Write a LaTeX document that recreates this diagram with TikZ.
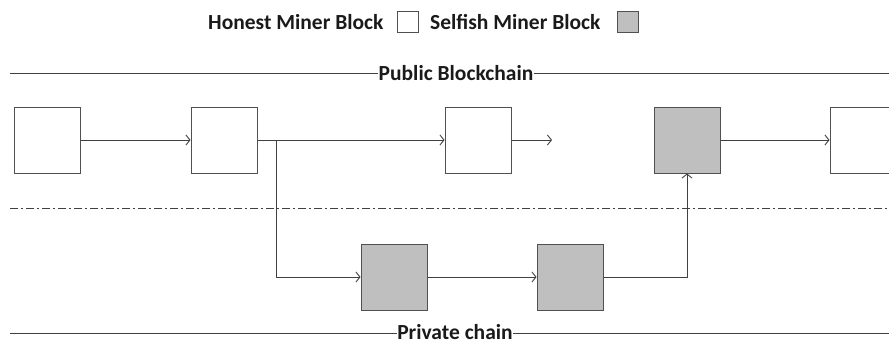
\documentclass[tikz,border=0pt]{standalone}
\usepackage{fontspec}
\setmainfont{Carlito}
\usepackage{tikz}
\usetikzlibrary{arrows.meta,positioning}
\definecolor{linec}{HTML}{404040}
\definecolor{boxline}{HTML}{505050}
\definecolor{selfish}{HTML}{BFBFBF}
\definecolor{txt}{HTML}{1A1A1A}
\tikzset{
  honest/.style={draw=boxline, line width=1pt, fill=white, minimum size=66pt, inner sep=0pt},
  selfbox/.style={honest, fill=selfish},
  keybox/.style={draw=boxline, line width=0.9pt, minimum size=21pt, inner sep=0pt},
  lbl/.style={text=txt, font=\fontsize{21.5}{24}\selectfont\bfseries, inner sep=0pt},
  arr/.style={-{Straight Barb[length=4pt,width=10pt]}, line width=0.9pt, draw=linec},
  rule/.style={line width=0.9pt, draw=linec}
}
\begin{document}
\begin{tikzpicture}[x=1pt, y=-1pt]
  \useasboundingbox (0,0) rectangle (889,345);

  % legend
  \node[lbl, anchor=west] (honestlbl) at (208,22) {Honest Miner Block};
  \node[keybox, anchor=west] (honestkey) at (397,22) {};
  \node[lbl, anchor=west] (selfishlbl) at (430,22) {Selfish Miner Block};
  \node[keybox, fill=selfish, anchor=west] (selfishkey) at (617,22) {};

  % public chain
  \node[lbl] (pubtitle) at (456,73) {Public Blockchain};
  \coordinate (publeft) at (10,73);
  \coordinate (pubright) at (889,73);
  \draw[rule] (publeft) -- (pubtitle.west);
  \draw[rule] (pubtitle.east) -- (pubright);

  \node[honest] (h1) at (47,140) {};
  \node[honest, right=110pt of h1] (h2) {};
  \node[honest, right=187pt of h2] (h3) {};
  \node[selfbox, right=142pt of h3] (s3) {};
  \node[honest, right=109pt of s3] (h4) {};
  \coordinate (h3next) at (552,140);
  \coordinate (fork) at (276,140);

  \draw[arr] (h1) -- (h2);
  \draw[arr] (h2) -- (h3);
  \draw[arr] (h3) -- (h3next);
  \draw[arr] (s3) -- (h4);

  % divider
  \coordinate (divleft) at (10,208);
  \coordinate (divright) at (889,208);
  \draw[line width=0.9pt, draw=linec, dash pattern=on 8pt off 3pt on 2pt off 3pt] (divleft) -- (divright);

  % private chain
  \node[selfbox] (s1) at (394,277) {};
  \node[selfbox, right=109pt of s1] (s2) {};

  \draw[arr] (fork) |- (s1);
  \draw[arr] (s1) -- (s2);
  \draw[arr] (s2.east) -| (s3.south);

  \node[lbl] (privtitle) at (455,332) {Private chain};
  \coordinate (privleft) at (10,333);
  \coordinate (privright) at (889,333);
  \draw[rule] (privleft) -- (privtitle.west |- privleft);
  \draw[rule] (privtitle.east |- privright) -- (privright);
\end{tikzpicture}
\end{document}
